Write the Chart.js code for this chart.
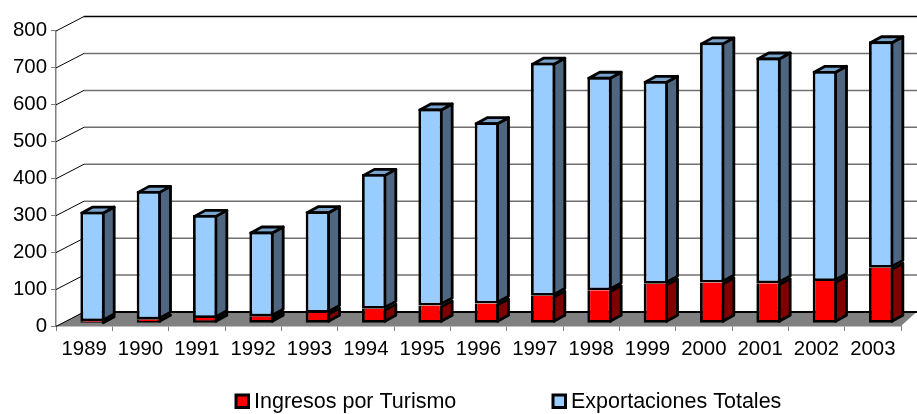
<html>
  <head>
    <script src="https://cdn.jsdelivr.net/npm/chart.js@4"></script>
    <title>Ingresos por Turismo</title>
    <style>body{margin:0;background:#fff}</style>
  </head>
  <body>
    <canvas id="myChart" width="917" height="414"></canvas>
    <script>
const years = ['1989','1990','1991','1992','1993','1994','1995','1996','1997','1998','1999','2000','2001','2002','2003'];
const turismo = [5,10,14,18,28,39,48,53,74,89,107,110,108,114,150];
const exportaciones = [297,348,279,230,275,365,533,491,631,578,549,650,611,569,613];
const yTicks = [0,100,200,300,400,500,600,700,800];

// depth of the fake 3d box
const wallDx = 28, wallDy = 14.5;
const barDx = 11, barDy = 6;
const shiftX = 8.3, shiftY = 2.8;
const sideColors = ['#800000', '#4f6680'];
const topColors = ['#800000', '#7aa3cc'];
const edge = 2.8;

function poly(ctx, pts, fill, stroke, lw) {
  ctx.beginPath();
  pts.forEach((p, i) => i ? ctx.lineTo(p[0], p[1]) : ctx.moveTo(p[0], p[1]));
  ctx.closePath();
  if (fill) { ctx.fillStyle = fill; ctx.fill(); }
  if (stroke) { ctx.strokeStyle = stroke; ctx.lineWidth = lw; ctx.stroke(); }
}

const box3d = {
  id: 'box3d',
  beforeDatasetsDraw(chart) {
    const ctx = chart.ctx, y = chart.scales.y, a = chart.chartArea;
    const right = chart.width;
    ctx.save();
    // floor
    const y0 = y.getPixelForValue(0);
    poly(ctx, [[a.left, y0], [a.left + wallDx, y0 - wallDy], [right, y0 - wallDy], [a.right, y0]], '#808080');
    // wall lines
    yTicks.forEach((v) => {
      const py = y.getPixelForValue(v);
      ctx.lineWidth = 1;
      ctx.strokeStyle = '#000';
      ctx.beginPath();
      ctx.moveTo(a.left, py + 0.5);
      ctx.lineTo(a.left + wallDx, py - wallDy + 0.5);
      ctx.stroke();
      ctx.lineWidth = v === 0 ? 2 : 1.5;
      ctx.strokeStyle = (v === 0 || v === 800) ? '#000' : '#707070';
      ctx.beginPath();
      ctx.moveTo(a.left + wallDx, py - wallDy + 0.5);
      ctx.lineTo(right, py - wallDy + 0.5);
      ctx.stroke();
    });
    // bar sides and tops
    ctx.lineJoin = 'round';
    chart.data.datasets.forEach((ds, i) => {
      chart.getDatasetMeta(i).data.forEach((bar) => {
        const r = bar.x + bar.width / 2 + shiftX - edge / 2;
        const l = bar.x - bar.width / 2 + shiftX + edge / 2;
        const t = bar.y - shiftY + edge / 2, b = bar.base - shiftY - edge / 2;
        poly(ctx, [[r, t], [r + barDx, t - barDy], [r + barDx, b - barDy], [r, b]], sideColors[i], '#000', edge);
        if (i === chart.data.datasets.length - 1) {
          poly(ctx, [[l, t], [l + barDx, t - barDy], [r + barDx, t - barDy], [r, t]], topColors[i], '#000', edge);
        }
      });
    });
    ctx.restore();
  },
  beforeDatasetDraw(chart) {
    chart.ctx.save();
    chart.ctx.translate(shiftX, -shiftY);
  },
  afterDatasetDraw(chart) {
    chart.ctx.restore();
  },
  afterDraw(chart) {
    // legend
    const ctx = chart.ctx;
    const spots = [235, 552];
    ctx.save();
    ctx.font = '21.5px "Liberation Sans"';
    ctx.textBaseline = 'middle';
    chart.data.datasets.forEach((ds, i) => {
      ctx.fillStyle = ds.backgroundColor;
      ctx.strokeStyle = '#000';
      ctx.lineWidth = 3;
      ctx.fillRect(spots[i] + 1, 395, 12.5, 12.5);
      ctx.strokeRect(spots[i] + 1, 395, 12.5, 12.5);
      ctx.fillStyle = '#000';
      ctx.fillText(ds.label, spots[i] + 19, 402);
    });
    ctx.restore();
  }
};

new Chart(document.getElementById('myChart'), {
  type: 'bar',
  data: {
    labels: years,
    datasets: [{
      label: 'Ingresos por Turismo',
      data: turismo,
      backgroundColor: '#ff0000',
      borderColor: '#000',
      borderWidth: edge,
      borderSkipped: 'top'
    }, {
      label: 'Exportaciones Totales',
      data: exportaciones,
      backgroundColor: '#99ccff',
      borderColor: '#000',
      borderWidth: edge,
      borderSkipped: false
    }]
  },
  options: {
    responsive: false,
    animation: false,
    clip: false,
    barPercentage: 0.43,
    categoryPercentage: 1,
    layout: { padding: { top: 30.5, right: 16, bottom: 0, left: 0 } },
    plugins: { legend: { display: false }, tooltip: { enabled: false } },
    scales: {
      x: {
        stacked: true,
        afterFit(s) { s.height = 88; },
        border: { color: '#808080', width: 1.5 },
        grid: { offset: true, drawOnChartArea: false, tickLength: 5, tickColor: '#808080' },
        ticks: { color: '#000', font: { family: 'Liberation Sans', size: 20.4 }, padding: 6, maxRotation: 0, autoSkip: false }
      },
      y: {
        stacked: true,
        min: 0,
        max: 800,
        afterFit(s) { s.width = 56; },
        border: { color: '#808080', width: 1.5 },
        grid: { drawOnChartArea: false, tickLength: 5, tickColor: '#808080' },
        afterBuildTicks(s) { s.ticks = yTicks.map((v) => ({ value: v })); },
        ticks: { color: '#000', font: { family: 'Liberation Sans', size: 20.4 }, padding: 4 }
      }
    }
  },
  plugins: [box3d]
});
    </script>
  </body>
</html>
